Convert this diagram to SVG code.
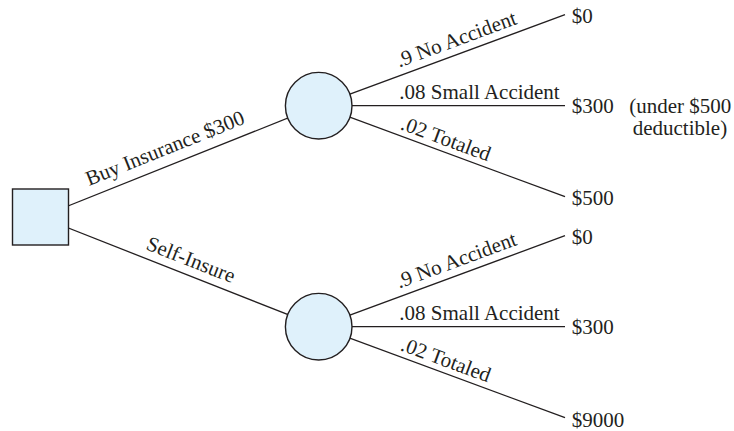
<svg xmlns="http://www.w3.org/2000/svg" width="734" height="431" viewBox="0 0 734 431">
<style>
.edge{stroke:#231f20;stroke-width:1.3;fill:none}
.node{fill:#dff1fb;stroke:#231f20;stroke-width:1.4}
text{font-family:"Liberation Serif","Times New Roman",serif;font-size:21px;fill:#231f20}
</style>
<rect width="734" height="431" fill="#ffffff"/>
<g id="connectors">
<line class="edge" x1="40.5" y1="217" x2="318.7" y2="105.7"/>
<line class="edge" x1="40.5" y1="217" x2="318.7" y2="326.7"/>
<line class="edge" x1="318.7" y1="105.7" x2="565" y2="14.7"/>
<line class="edge" x1="318.7" y1="105.7" x2="565" y2="105.7"/>
<line class="edge" x1="318.7" y1="105.7" x2="565" y2="196.7"/>
<line class="edge" x1="318.7" y1="326.7" x2="565" y2="235.7"/>
<line class="edge" x1="318.7" y1="326.7" x2="565" y2="326.7"/>
<line class="edge" x1="318.7" y1="326.7" x2="565" y2="417.7"/>
<text transform="translate(89,186) rotate(-21.8)">Buy Insurance $300</text>
<text transform="translate(145,249) rotate(21.52)">Self-Insure</text>
<text transform="translate(399.3,67.5) rotate(-20.28)">.9 No Accident</text>
<text x="399.3" y="98.5">.08 Small Accident</text>
<text transform="translate(399.5,129) rotate(20.28)">.02 Totaled</text>
<text transform="translate(399.3,288.5) rotate(-20.28)">.9 No Accident</text>
<text x="399.3" y="319.5">.08 Small Accident</text>
<text transform="translate(399.5,350) rotate(20.28)">.02 Totaled</text>
</g>
<g id="decision">
<rect class="node" x="12.5" y="189" width="56" height="56"/>
</g>
<g id="chance-insure">
<circle class="node" cx="318.7" cy="105.7" r="33.3"/>
</g>
<g id="chance-self">
<circle class="node" cx="318.7" cy="326.7" r="33.3"/>
</g>
<g id="outcome-insure-none"><text x="571.7" y="22.7">$0</text></g>
<g id="outcome-insure-small"><text x="571.7" y="113.3">$300</text>
<text x="629.3" y="113.3">(under $500</text>
<text x="632.7" y="135">deductible)</text></g>
<g id="outcome-insure-total"><text x="571.7" y="205">$500</text></g>
<g id="outcome-self-none"><text x="571.7" y="243.5">$0</text></g>
<g id="outcome-self-small"><text x="571.7" y="334.3">$300</text></g>
<g id="outcome-self-total"><text x="571.7" y="426.5">$9000</text></g>
</svg>
